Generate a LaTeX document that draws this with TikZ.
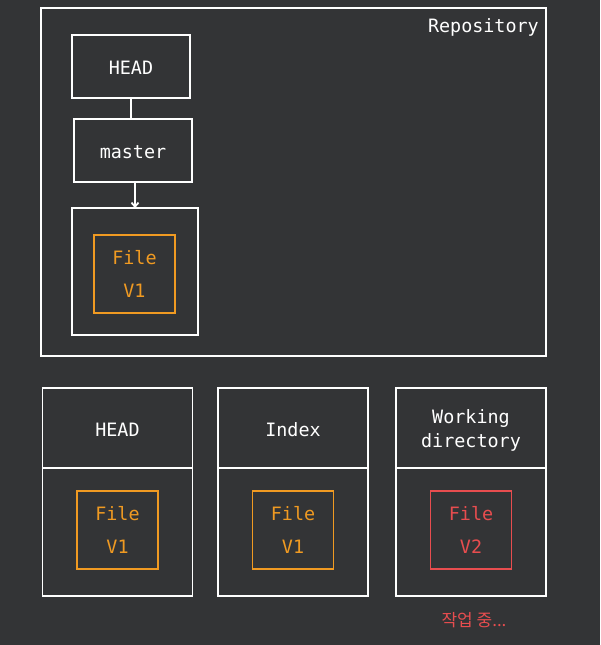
\documentclass[tikz,border=0pt]{standalone}
\usepackage{fontspec}
\setmonofont{DejaVu Sans Mono}
\newfontfamily\kofont{Noto Sans CJK KR}
\usetikzlibrary{positioning,arrows.meta}
\definecolor{bg}{HTML}{333436}
\definecolor{filev1}{HTML}{F09A22}
\definecolor{filev2}{HTML}{E84D4F}
\begin{document}
\begin{tikzpicture}[%
        x=1pt, y=-1pt,
        box/.style={draw=white, line width=1.8pt, outer sep=0pt, inner sep=0pt,
            text=white, font=\ttfamily\fontsize{18.4}{21}\selectfont},
        boxtext/.style={text=white, align=center, inner sep=0pt,
            font=\ttfamily\fontsize{18.4}{21}\selectfont},
        file/.style={draw=#1, text=#1, line width=1.8pt, outer sep=0pt,
            minimum width=81pt, minimum height=78pt, align=center,
            font=\ttfamily\fontsize{18.4}{21}\selectfont}
    ]
        \useasboundingbox (0,0) rectangle (600,645);
        \fill [bg] (0,0) rectangle (600,645);
        % repository
        \node [box, minimum width=505pt, minimum height=348pt] (repo) at (293.5,182) {};
        \node [boxtext, anchor=base east] (repolabel) at (539,32) {Repository};
        \node [box, minimum width=118pt, minimum height=63pt, text height=16pt, text depth=0pt] (rhead) at (131,66.5) {HEAD};
        \node [box, minimum width=118pt, minimum height=63pt, text height=16pt, text depth=0pt] (master) at (133,150.5) {master};
        \node [box, minimum width=126pt, minimum height=127pt] (commit) at (135,271.5) {};
        \node [file=filev1] (commitfile) at (134.5,274) {File\\[12pt]V1};
        \draw [white, line width=1.8pt] (rhead.south) -- (rhead.south |- master.north);
        \draw [white, line width=1.8pt, -{Straight Barb[length=4pt,width=7pt]}] (master.south -| commit.north) -- (commit.north);
        % three trees
        \foreach \x/\n/\t/\c/\v in {117.5/head/HEAD/filev1/V1, 293/index/Index/filev1/V1,
                471/work/{Working\\[3pt]directory}/filev2/V2} {
            \node [box, minimum width=150pt, minimum height=80pt] (\n) at (\x,428) {};
            \node [boxtext, yshift=-2pt] (\n-label) at (\n) {\t};
            \node [box, minimum width=150pt, minimum height=128pt, below=0pt of \n] (\n-area) {};
            \node [file=\c, yshift=2pt] (\n-file) at (\n-area) {File\\[12pt]\v};
        }
        \node [text=filev2, font=\kofont\fontsize{17}{20}\selectfont] (wip) at (474,620) {작업 중...};
\end{tikzpicture}
\end{document}
